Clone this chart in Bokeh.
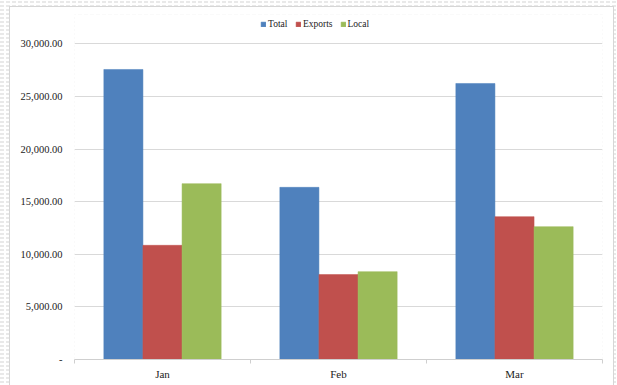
from bokeh.plotting import figure
from bokeh.layouts import column
from bokeh.models import (FixedTicker, Legend, LegendItem,
                          Range1d, ColumnDataSource)
from bokeh.embed import file_html
from bokeh.resources import INLINE

# Monthly volumes
months = ["Jan", "Feb", "Mar"]
total = [27560, 16360, 26230]
exports = [10850, 8070, 13575]
local = [16710, 8350, 12625]

series_names = ["Total", "Exports", "Local"]
series_values = [total, exports, local]
series_colors = ["#4F81BD", "#C0504D", "#9BBB59"]

y_ticks = [0, 5000, 10000, 15000, 20000, 25000, 30000]
y_tick_labels = ["-", "5,000.00", "10,000.00", "15,000.00",
                 "20,000.00", "25,000.00", "30,000.00"]

SERIF = "'Liberation Serif', 'Times New Roman', serif"
GRID = "#d9d9d9"

# The frame runs a little above the 30,000 line so the legend fits inside it
FRAME_TOP, AXIS_TOP, FRAME_BOTTOM = 14, 43.3, 359
y_end = 30000 * (FRAME_BOTTOM - FRAME_TOP) / (FRAME_BOTTOM - AXIS_TOP)

p = figure(width=603, height=378, output_backend="svg", toolbar_location=None,
           x_range=Range1d(0, len(months)), y_range=Range1d(0, y_end),
           min_border_left=64, min_border_right=11,
           min_border_top=FRAME_TOP - 7, min_border_bottom=26,
           margin=(7, 0, 0, 10),
           styles={"box-shadow": "0 0 0 1px #d6d6d6"})
p.background_fill_color = "white"
p.border_fill_color = "white"
p.outline_line_color = None

# Clustered bars: three bars per month, 150% gap between clusters
bar_w = 1 / 4.5
renderers = []
for k, (name, vals, col) in enumerate(zip(series_names, series_values, series_colors)):
    xs = [i + 0.5 + (k - 1) * bar_w for i in range(len(months))]
    src = ColumnDataSource(dict(x=xs, top=vals))
    r = p.vbar(x="x", top="top", width=bar_w, bottom=0, source=src,
               fill_color=col, line_color=col, line_width=0.5)
    renderers.append(r)

# Y axis: accounting style labels, no line or ticks
yax = p.yaxis[0]
yax.ticker = FixedTicker(ticks=y_ticks)
yax.major_label_overrides = {t: lab for t, lab in zip(y_ticks, y_tick_labels)}
yax.axis_line_color = None
yax.major_tick_line_color = None
yax.minor_tick_line_color = None
yax.major_label_standoff = 6
yax.major_label_text_font = SERIF
yax.major_label_text_font_size = "10.5px"
yax.major_label_text_color = "#222222"

# X axis: month labels at centres, tick marks between categories
xax = p.xaxis[0]
xax.ticker = FixedTicker(ticks=[i + 0.5 for i in range(len(months))],
                         minor_ticks=list(range(len(months) + 1)))
xax.major_label_overrides = {i + 0.5: m for i, m in enumerate(months)}
xax.axis_line_color = "#cfcfcf"
xax.major_tick_line_color = None
xax.minor_tick_line_color = "#cfcfcf"
xax.minor_tick_in = 0
xax.minor_tick_out = 4
xax.major_tick_in = 0
xax.major_tick_out = 0
xax.major_label_standoff = 4
xax.major_label_text_font = SERIF
xax.major_label_text_font_size = "11px"
xax.major_label_text_color = "#222222"

p.xgrid.grid_line_color = None
p.ygrid.grid_line_color = GRID
p.ygrid.grid_line_width = 1

# Horizontal legend near the top of the chart area
legend = Legend(items=[LegendItem(label=n, renderers=[r])
                       for n, r in zip(series_names, renderers)],
                orientation="horizontal",
                location=(186, FRAME_BOTTOM - 30),
                glyph_width=6, glyph_height=6, label_height=12,
                label_standoff=2, spacing=7, padding=0, margin=0,
                label_text_font=SERIF, label_text_font_size="9.5px",
                label_text_color="#222222",
                border_line_color=None, background_fill_alpha=0)
p.add_layout(legend, "center")

# Sheet around the chart area: faint dashed hatch
sheet = column(p, width=617, height=385, sizing_mode="fixed",
               styles={"background-color": "#ffffff",
                       "background-image":
                           "repeating-linear-gradient(0deg, #ffffff 0 2px, transparent 2px 4px), "
                           "repeating-linear-gradient(90deg, #e9e9e9 0 4px, #ffffff 4px 6px)"})

open("out.html", "w").write(file_html(sheet, INLINE))
